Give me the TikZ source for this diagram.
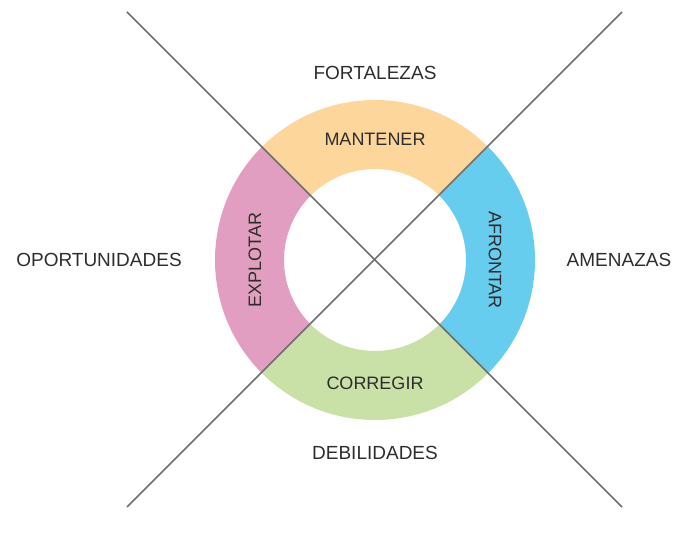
\documentclass[tikz,border=0pt]{standalone}
\usepackage{fontspec}
\setmainfont{Liberation Sans}
\definecolor{cOrange}{RGB}{253,214,155}
\definecolor{cPink}{RGB}{226,158,192}
\definecolor{cBlue}{RGB}{102,205,238}
\definecolor{cGreen}{RGB}{201,225,166}
\definecolor{cText}{RGB}{45,45,45}
\definecolor{cLine}{RGB}{110,110,110}
\begin{document}
\begin{tikzpicture}[x=1pt,y=1pt,
  outer/.style={text=cText,font=\fontsize{19}{19}\selectfont,inner sep=0pt},
  inner/.style={text=cText,font=\fontsize{18}{18}\selectfont,inner sep=0pt},
  divider/.style={draw=cLine,line width=1.7pt}]
\useasboundingbox (0,0) rectangle (678,533);
\coordinate (c) at (375,273);
\def\Ro{160}
\def\Ri{91}
% ring sectors
\foreach \a/\b/\col in {45/135/cOrange,135/225/cPink,225/315/cGreen,-45/45/cBlue}{
  \fill[\col] ([shift={(\a:\Ro)}]c) arc[start angle=\a,end angle=\b,radius=\Ro]
     -- ([shift={(\b:\Ri)}]c) arc[start angle=\b,end angle=\a,radius=\Ri] -- cycle;
}
% diagonal lines
\coordinate (tl) at (127,521);
\coordinate (br) at (622,26);
\coordinate (bl) at (127,26);
\coordinate (tr) at (622,521);
\draw[divider] (tl) -- (br);
\draw[divider] (bl) -- (tr);
% labels
\node[outer] (fort) at (375,460) {FORTALEZAS};
\node[outer] (debil) at (375,80) {DEBILIDADES};
\node[outer] (oport) at (99,273) {OPORTUNIDADES};
\node[outer] (amen) at (619,273) {AMENAZAS};
\node[inner] (mant) at (375,394) {MANTENER};
\node[inner] (corr) at (375,150) {CORREGIR};
\node[inner,rotate=90] (expl) at (255,273) {EXPLOTAR};
\node[inner,rotate=-90] (afro) at (495,273) {AFRONTAR};
\end{tikzpicture}
\end{document}
